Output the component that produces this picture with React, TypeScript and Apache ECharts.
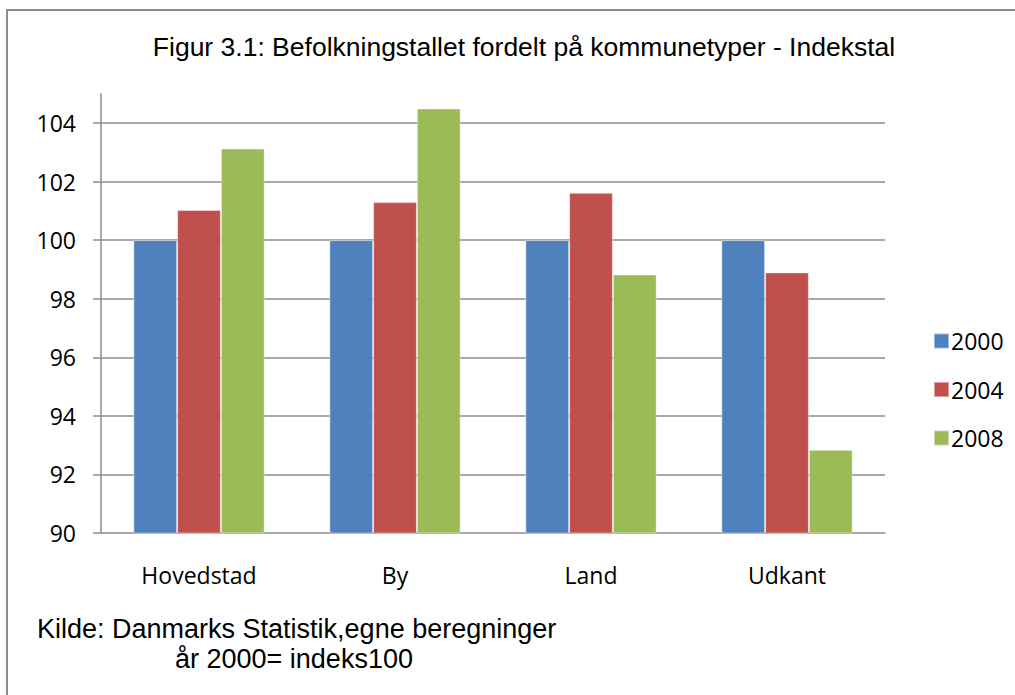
import React, { useEffect, useRef } from "react";
import * as echarts from "echarts";

const categories = ["Hovedstad", "By", "Land", "Udkant"];
const seriesNames = ["2000", "2004", "2008"];
const values2000 = [100, 100, 100, 100];
const values2004 = [101.03, 101.3, 101.62, 98.9];
const values2008 = [103.13, 104.5, 98.83, 92.84];
const yTicks = [90, 92, 94, 96, 98, 100, 102, 104];
const colors = ["#4F81BD", "#C0504D", "#9BBB59"];
const titleText = "Figur 3.1: Befolkningstallet fordelt på kommunetyper - Indekstal";
const footLine1 = "Kilde: Danmarks Statistik,egne beregninger";
const footLine2 = "år 2000= indeks100";

export default function App() {
  const ref = useRef<HTMLDivElement>(null);
  useEffect(() => {
    if (!ref.current) return;
    const chart = echarts.init(ref.current, null, { renderer: "svg" });
    const data = [values2000, values2004, values2008];
    const labelFont = "'Open Sans', sans-serif";
    const arial = "'Liberation Sans', Arial, sans-serif";
    chart.setOption({
      animation: false,
      backgroundColor: "#ffffff",
      title: {
        text: titleText,
        left: 519,
        top: 28,
        textAlign: "center",
        textStyle: { fontFamily: arial, fontSize: 26.5, fontWeight: "normal", color: "#000" },
      },
      grid: { left: 101, right: 130, top: 93.75, bottom: 162, containLabel: false },
      legend: {
        orient: "vertical",
        left: 928,
        top: 324,
        itemWidth: 15,
        itemHeight: 15,
        itemGap: 24.5,
        icon: "rect",
        data: seriesNames,
        textStyle: { fontFamily: labelFont, fontSize: 23, lineHeight: 24, color: "#000", padding: [0, 0, 0, -3] },
      },
      xAxis: {
        type: "category",
        data: categories,
        axisLine: { lineStyle: { color: "#8c8c8c", width: 1.5 } },
        axisTick: { show: false },
        axisLabel: { fontFamily: labelFont, fontSize: 23, lineHeight: 24, color: "#000", margin: 30 },
      },
      yAxis: {
        type: "value",
        min: 90,
        max: 105,
        interval: 2,
        axisLine: { show: true, lineStyle: { color: "#8c8c8c", width: 1.5 } },
        axisTick: { show: true, length: 8, customValues: yTicks, lineStyle: { color: "#8c8c8c", width: 1.5 } },
        axisLabel: { fontFamily: labelFont, fontSize: 23, color: "#000", margin: 25, customValues: yTicks },
        splitLine: { show: true, showMinLine: false, lineStyle: { color: "#8c8c8c", width: 1.5 } },
      },
      series: seriesNames.map((name, i) => ({
        name,
        type: "bar",
        data: data[i],
        barGap: "0%",
        barCategoryGap: "33%",
        itemStyle: { color: colors[i], borderColor: "rgba(255,255,255,0.45)", borderWidth: 1 },
      })),
      graphic: [
        {
          type: "rect",
          shape: { x: 7, y: 10, width: 1020, height: 700 },
          style: { fill: "none", stroke: "#8c8c8c", lineWidth: 2 },
          silent: true,
        },
        {
          type: "text",
          x: 37,
          y: 629,
          style: { text: footLine1, font: `27px ${arial}`, fill: "#000", verticalAlign: "middle", align: "left" },
        },
        {
          type: "text",
          x: 175,
          y: 659,
          style: { text: footLine2, font: `27px ${arial}`, fill: "#000", verticalAlign: "middle", align: "left" },
        },
      ],
    });
    return () => chart.dispose();
  }, []);
  return <div ref={ref} style={{ position: "fixed", left: 0, top: 0, width: 1015, height: 695 }} />;
}
